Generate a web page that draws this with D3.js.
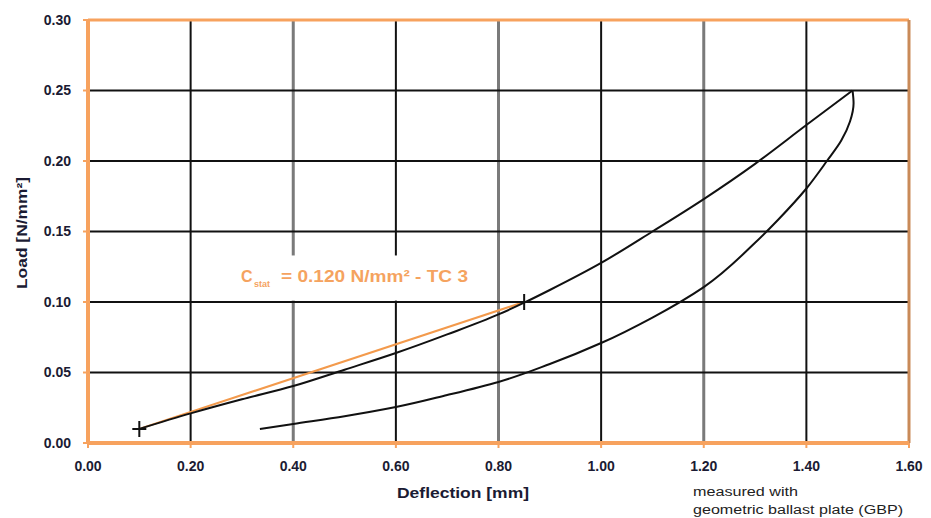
<!DOCTYPE html>
<html>
<head>
    <title>Load - Deflection (plate load test)</title>
    <script src="https://d3js.org/d3.v7.min.js"></script>
    <style>
        body { margin: 0; background: #fff; }
        .tick-label { font-family: "Liberation Sans", Arial, sans-serif; font-size: 14px; font-weight: bold; fill: #1b1b33; }
        .axis-title { font-family: "Liberation Sans", Arial, sans-serif; font-size: 14px; font-weight: bold; fill: #1b1b33; }
        .note { font-family: "Liberation Sans", Arial, sans-serif; font-size: 12px; fill: #222; }
    </style>
</head>
<body>
    <svg id="chart"></svg>
    <script>
        // axis ticks
        var xTicks = [0, 0.2, 0.4, 0.6, 0.8, 1.0, 1.2, 1.4, 1.6];
        var yTicks = [0, 0.05, 0.10, 0.15, 0.20, 0.25, 0.30];

        // loading branch (deflection mm, load N/mm²)
        var loadX = [0.10, 0.20, 0.30, 0.40, 0.50, 0.60, 0.70, 0.80, 0.85, 0.90, 1.00, 1.10, 1.20, 1.30, 1.40, 1.49];
        var loadY = [0.010, 0.021, 0.031, 0.0404, 0.052, 0.0638, 0.077, 0.0912, 0.0995, 0.1085, 0.1277, 0.150, 0.173, 0.198, 0.2255, 0.250];

        // unloading branch
        var unloadX = [1.49, 1.492, 1.485, 1.468, 1.44, 1.40, 1.344, 1.30, 1.20, 1.10, 1.00, 0.90, 0.80, 0.70, 0.60, 0.50, 0.40, 0.335];
        var unloadY = [0.250, 0.241, 0.228, 0.2145, 0.200, 0.1805, 0.158, 0.142, 0.1106, 0.089, 0.0709, 0.056, 0.0433, 0.034, 0.0255, 0.019, 0.0135, 0.0099];

        // secant for C_stat
        var secantX = [0.10, 0.85];
        var secantY = [0.010, 0.100];

        var W = 931, H = 518;
        var margin = { top: 20, right: 22, bottom: 75, left: 88 };
        var width = W - margin.left - margin.right,
            height = H - margin.top - margin.bottom;

        var svg = d3.select('#chart').attr('width', W).attr('height', H);
        var g = svg.append('g').attr('transform', 'translate(' + margin.left + ',' + margin.top + ')');

        var x = d3.scaleLinear().domain([0, 1.6]).range([0, width]);
        var y = d3.scaleLinear().domain([0, 0.30]).range([height, 0]);

        // vertical grid (alternate black / grey)
        g.selectAll('.vgrid')
            .data(xTicks.slice(1, -1))
            .enter().append('line')
            .attr('x1', d => x(d)).attr('x2', d => x(d))
            .attr('y1', 0).attr('y2', height)
            .attr('stroke', (d, i) => i % 2 ? '#7a7a7a' : '#111')
            .attr('stroke-width', (d, i) => i % 2 ? 3 : 2);

        // horizontal grid
        g.selectAll('.hgrid')
            .data(yTicks.slice(1, -1))
            .enter().append('line')
            .attr('x1', 0).attr('x2', width)
            .attr('y1', d => y(d)).attr('y2', d => y(d))
            .attr('stroke', '#111')
            .attr('stroke-width', 2);

        // plot frame
        var orange = '#f7a25e';
        g.append('line').attr('x1', 0).attr('x2', width).attr('y1', 0).attr('y2', 0)
            .attr('stroke', orange).attr('stroke-width', 3);
        g.append('line').attr('x1', width).attr('x2', width).attr('y1', 0).attr('y2', height)
            .attr('stroke', '#c98a58').attr('stroke-width', 3);
        g.append('line').attr('x1', 0).attr('x2', width).attr('y1', height).attr('y2', height)
            .attr('stroke', orange).attr('stroke-width', 4);
        g.append('line').attr('x1', 0).attr('x2', 0).attr('y1', 0).attr('y2', height)
            .attr('stroke', orange).attr('stroke-width', 4);

        // small tick marks
        g.selectAll('.ytick').data(yTicks).enter().append('line')
            .attr('x1', -5).attr('x2', 0)
            .attr('y1', d => y(d)).attr('y2', d => y(d))
            .attr('stroke', orange).attr('stroke-width', 2);
        g.selectAll('.xtick').data(xTicks).enter().append('line')
            .attr('x1', d => x(d)).attr('x2', d => x(d))
            .attr('y1', height).attr('y2', height + 5)
            .attr('stroke', orange).attr('stroke-width', 2);

        // tick labels
        g.selectAll('.ylab').data(yTicks).enter().append('text')
            .attr('class', 'tick-label')
            .attr('x', -17).attr('y', d => y(d)).attr('dy', '0.35em')
            .attr('text-anchor', 'end')
            .text(d => d3.format('.2f')(d));
        g.selectAll('.xlab').data(xTicks).enter().append('text')
            .attr('class', 'tick-label')
            .attr('x', d => x(d)).attr('y', height + 28)
            .attr('text-anchor', 'middle')
            .text(d => d3.format('.2f')(d));

        // axis titles
        svg.append('text').attr('class', 'axis-title')
            .attr('x', 397).attr('y', 498)
            .attr('textLength', 132).attr('lengthAdjust', 'spacingAndGlyphs')
            .text('Deflection [mm]');
        svg.append('text').attr('class', 'axis-title')
            .attr('transform', 'translate(27,289) rotate(-90)')
            .attr('textLength', 112).attr('lengthAdjust', 'spacingAndGlyphs')
            .text('Load [N/mm²]');

        // note
        svg.append('text').attr('class', 'note').attr('x', 693).attr('y', 496)
            .attr('textLength', 105).attr('lengthAdjust', 'spacingAndGlyphs')
            .text('measured with');
        svg.append('text').attr('class', 'note').attr('x', 693).attr('y', 514)
            .attr('textLength', 210).attr('lengthAdjust', 'spacingAndGlyphs')
            .text('geometric ballast plate (GBP)');

        var loading = loadX.map((v, i) => [v, loadY[i]]);
        var unloading = unloadX.map((v, i) => [v, unloadY[i]]);
        var secant = secantX.map((v, i) => [v, secantY[i]]);

        // white box behind the annotation
        g.append('rect')
            .attr('x', x(0.29)).attr('y', y(0.133))
            .attr('width', x(0.745) - x(0.29))
            .attr('height', y(0.101) - y(0.133))
            .attr('fill', '#fff');

        // secant (orange)
        g.append('path')
            .datum(secant)
            .attr('d', d3.line().x(d => x(d[0])).y(d => y(d[1])))
            .attr('fill', 'none')
            .attr('stroke', '#f39a4c')
            .attr('stroke-width', 2);

        g.append('path')
            .datum(loading)
            .attr('d', d3.line().x(d => x(d[0])).y(d => y(d[1])).curve(d3.curveMonotoneX))
            .attr('fill', 'none')
            .attr('stroke', '#111')
            .attr('stroke-width', 2);

        g.append('path')
            .datum(unloading)
            .attr('d', d3.line().x(d => x(d[0])).y(d => y(d[1])).curve(d3.curveMonotoneY))
            .attr('fill', 'none')
            .attr('stroke', '#111')
            .attr('stroke-width', 2);

        // + markers
        g.selectAll('.mark').data(secant).enter().append('path')
            .attr('transform', d => 'translate(' + x(d[0]) + ',' + y(d[1]) + ')')
            .attr('d', 'M-7,0H7M0,-8V8')
            .attr('stroke', '#111')
            .attr('stroke-width', 2);

        // C_stat annotation
        var font = '"Liberation Sans", Arial, sans-serif';
        svg.append('text')
            .attr('x', 241).attr('y', 282)
            .style('font-family', font).style('font-weight', 'bold').style('font-size', '16px')
            .attr('fill', '#f5a35f')
            .text('C');
        svg.append('text')
            .attr('x', 254).attr('y', 287)
            .style('font-family', font).style('font-weight', 'bold').style('font-size', '9px')
            .attr('fill', '#f5a35f')
            .text('stat');
        svg.append('text')
            .attr('x', 281).attr('y', 282)
            .style('font-family', font).style('font-weight', 'bold').style('font-size', '16px')
            .attr('textLength', 187).attr('lengthAdjust', 'spacingAndGlyphs')
            .attr('fill', '#f5a35f')
            .text('= 0.120 N/mm² - TC 3');
    </script>
</body>
</html>
